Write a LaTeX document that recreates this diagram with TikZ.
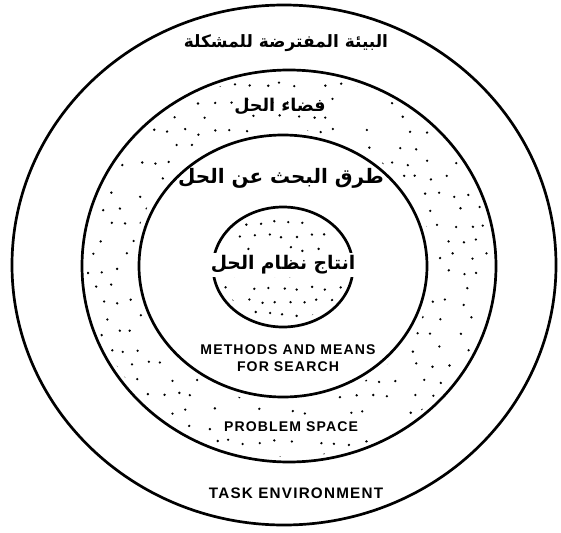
\documentclass[tikz,border=0pt]{standalone}
\usepackage{fontspec}
\newfontfamily\arabicfont[Script=Arabic]{DejaVu Sans}
\newfontfamily\latinfont[LetterSpace=8]{Liberation Sans}
\TeXXeTstate=1
\usetikzlibrary{positioning}

\begin{document}
\begin{tikzpicture}[x=0.03cm,y=-0.03cm,
  ring/.style={draw,line width=2.3pt},
  artxt/.style={font=\arabicfont\bfseries\fontsize{17}{19}\selectfont,inner sep=0},
  entxt/.style={font=\latinfont\bfseries\fontsize{12}{15}\selectfont,align=center,inner sep=0},
  dot/.style={fill=black}]
\useasboundingbox (0,0) rectangle (561,533);

% ---- the four rings
\coordinate (cenv) at (284,265);
\coordinate (cspace) at (289,266);
\coordinate (csearch) at (283,266);
\coordinate (ccore) at (283,267);
\draw[ring] (cenv) ellipse [x radius=272,y radius=260];
\draw[ring] (cspace) ellipse [x radius=207,y radius=196];
\draw[ring] (csearch) ellipse [x radius=144,y radius=131];
\draw[ring] (ccore) ellipse [x radius=70,y radius=60];

% ---- stipple : problem space ring
\pgfmathsetseed{11}
\begin{scope}[even odd rule]
  \clip (cspace) ellipse [x radius=202,y radius=191]
        (csearch) ellipse [x radius=150,y radius=137];
  \foreach \i in {0,...,28}
    \foreach \j in {0,...,26} {
      \pgfmathtruncatemacro\keep{rnd>0.3}
      \ifnum\keep=1
        \fill[dot] ({80+\i*15+mod(\j,2)*7+rand*3},{70+\j*15.5+rand*3}) circle (1.3);
      \fi}
\end{scope}

% ---- stipple : inner circle
\begin{scope}
  \clip (ccore) ellipse [x radius=64,y radius=54];
  \foreach \i in {0,...,10}
    \foreach \j in {0,...,9} {
      \pgfmathtruncatemacro\keep{rnd>0.2}
      \ifnum\keep=1
        \fill[dot] ({213+\i*14+mod(\j,2)*7+rand*2},{210+\j*13+rand*2}) circle (1.3);
      \fi}
\end{scope}

% ---- arabic labels
\node[artxt,font=\arabicfont\bfseries\fontsize{14.5}{17}\selectfont,fill=white,inner sep=2pt]
  (envar) at (286,43) {\beginR البيئة المفترضة للمشكلة\endR};
\node[artxt,font=\arabicfont\bfseries\fontsize{15}{17}\selectfont] (spacear) at (280,106) {\beginR فضاء الحل\endR};
\node[artxt] (searchar) at (281,178) {\beginR طرق البحث عن الحل\endR};
\node[artxt,font=\arabicfont\bfseries\fontsize{16}{18}\selectfont,fill=white,inner sep=2pt]
  (corear) at (283,265) {\beginR انتاج نظام الحل\endR};

% ---- english labels
\node[entxt] (searchen) at (288,358) {METHODS AND MEANS\\FOR SEARCH};
\node[entxt,fill=white,inner sep=2pt] (spaceen) at (291,427) {PROBLEM SPACE};
\node[entxt,font=\latinfont\bfseries\fontsize{13}{15}\selectfont] (enven) at (296,493) {TASK ENVIRONMENT};
\end{tikzpicture}
\end{document}
